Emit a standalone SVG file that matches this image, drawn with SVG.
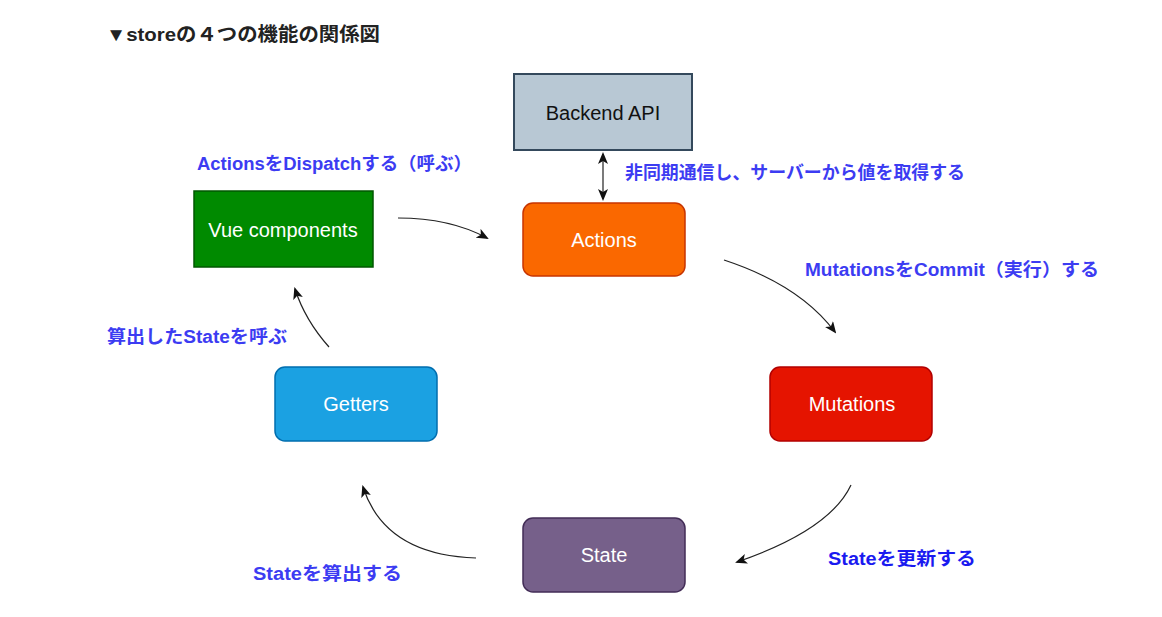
<svg xmlns="http://www.w3.org/2000/svg" width="1162" height="617" viewBox="0 0 1162 617">
<style>
.title{font-family:"Liberation Sans","Noto Sans CJK JP",sans-serif;font-weight:bold;font-size:19px;fill:#222}
.lbl{font-family:"Liberation Sans","Noto Sans CJK JP",sans-serif;font-weight:bold;font-size:18px;fill:#3c3cf2}
.node text{font-family:"Liberation Sans","Noto Sans CJK JP",sans-serif;font-size:20px;text-anchor:middle;fill:#fff}
.edge{fill:none;stroke:#222;stroke-width:1.2}
</style>
<defs>
<marker id="ah" viewBox="0 0 12 10" refX="10" refY="5" markerWidth="12" markerHeight="10" markerUnits="userSpaceOnUse" orient="auto-start-reverse">
<path d="M0,0 L12,5 L0,10 L3,5 z" fill="#111"/>
</marker>
</defs>
<rect width="1162" height="617" fill="#fff"/>
<text class="title" x="106" y="41" textLength="274" lengthAdjust="spacingAndGlyphs">▼storeの４つの機能の関係図</text>

<g id="backend" class="node">
<rect x="514" y="74" width="178" height="76" fill="#b8c8d4" stroke="#34495c" stroke-width="2"/>
<text x="603" y="120" style="fill:#111">Backend API</text>
</g>
<g id="actions" class="node">
<rect x="523" y="203" width="162" height="73" rx="10" fill="#fa6800" stroke="#c73500" stroke-width="1.5"/>
<text x="604" y="247">Actions</text>
</g>
<g id="vue" class="node">
<rect x="194" y="191" width="179" height="76" fill="#008a00" stroke="#005700" stroke-width="1.5"/>
<text x="283" y="237">Vue components</text>
</g>
<g id="mutations" class="node">
<rect x="770" y="367" width="162" height="74" rx="10" fill="#e51400" stroke="#b20000" stroke-width="1.5"/>
<text x="852" y="411">Mutations</text>
</g>
<g id="getters" class="node">
<rect x="275" y="367" width="162" height="74" rx="10" fill="#1ba1e2" stroke="#006eaf" stroke-width="1.5"/>
<text x="356" y="411">Getters</text>
</g>
<g id="state" class="node">
<rect x="523" y="518" width="162" height="74" rx="10" fill="#76608a" stroke="#432d57" stroke-width="1.5"/>
<text x="604" y="562">State</text>
</g>

<g id="connectors">
<path class="edge" d="M603,154 L603,199" marker-start="url(#ah)" marker-end="url(#ah)"/>
<path class="edge" d="M398,218 Q450,218 487,238" marker-end="url(#ah)"/>
<path class="edge" d="M724,260 Q800,285 835,332" marker-end="url(#ah)"/>
<path class="edge" d="M851,485 Q830,530 737,562" marker-end="url(#ah)"/>
<path class="edge" d="M476,558 Q385,555 363,487" marker-end="url(#ah)"/>
<path class="edge" d="M329,347 Q305,320 295,289" marker-end="url(#ah)"/>
</g>

<g id="labels">
<text class="lbl" x="197" y="170" textLength="275" lengthAdjust="spacingAndGlyphs">ActionsをDispatchする（呼ぶ）</text>
<text class="lbl" x="625" y="179" textLength="340" lengthAdjust="spacingAndGlyphs">非同期通信し、サーバーから値を取得する</text>
<text class="lbl" x="805" y="276" textLength="294" lengthAdjust="spacingAndGlyphs">MutationsをCommit（実行）する</text>
<text class="lbl" x="107" y="343" textLength="180" lengthAdjust="spacingAndGlyphs">算出したStateを呼ぶ</text>
<text class="lbl" x="253" y="580" textLength="149" lengthAdjust="spacingAndGlyphs">Stateを算出する</text>
<text class="lbl" x="828" y="565" textLength="148" lengthAdjust="spacingAndGlyphs" style="fill:#1a1af0">Stateを更新する</text>
</g>
</svg>
